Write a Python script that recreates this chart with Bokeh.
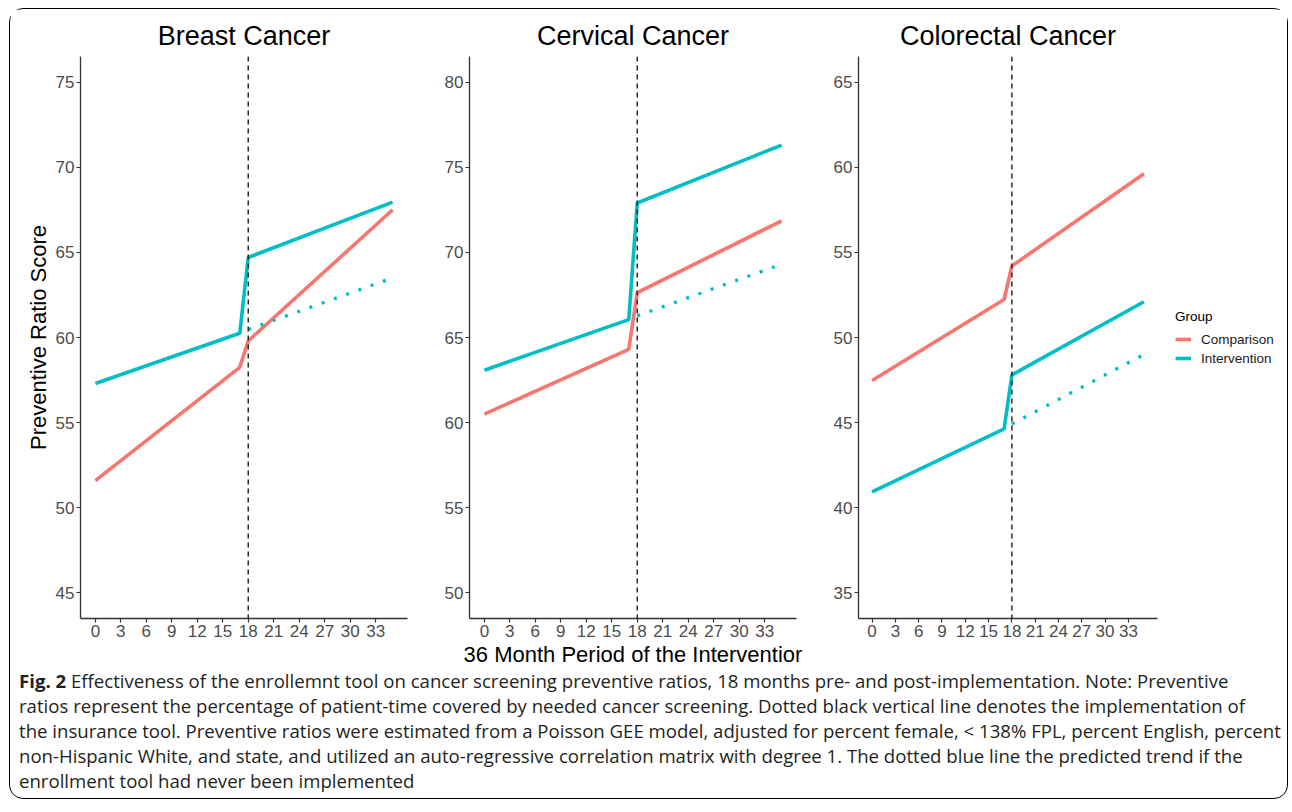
from bokeh.plotting import figure
from bokeh.models import Range1d, Span, Legend, LegendItem, FixedTicker, Div
from bokeh.layouts import row, column
from bokeh.embed import file_html
from bokeh.resources import INLINE

# ---------------- data ----------------
months = [0, 17, 18, 35]
cf_months = [18, 35]
x_ticks = [0, 3, 6, 9, 12, 15, 18, 21, 24, 27, 30, 33]
implementation_month = 18

titles = ["Breast Cancer", "Cervical Cancer", "Colorectal Cancer"]

breast_comparison = [51.6, 58.25, 59.8, 67.5]
breast_intervention = [57.3, 60.25, 64.7, 67.95]
breast_counterfactual = [60.47, 63.5]
breast_yticks = [45, 50, 55, 60, 65, 70, 75]

cervical_comparison = [60.5, 64.3, 67.63, 71.85]
cervical_intervention = [63.08, 66.05, 72.9, 76.3]
cervical_counterfactual = [66.27, 69.3]
cervical_yticks = [50, 55, 60, 65, 70, 75, 80]

colorectal_comparison = [47.47, 52.23, 54.2, 59.62]
colorectal_intervention = [40.93, 44.63, 47.8, 52.1]
colorectal_counterfactual = [44.92, 49.0]
colorectal_yticks = [35, 40, 45, 50, 55, 60, 65]

group_labels = ["Comparison", "Intervention"]
y_title = "Preventive Ratio Score"
x_title = "36 Month Period of the Interventior"

caption_lines = [
    "<b>Fig. 2</b> Effectiveness of the enrollemnt tool on cancer screening preventive ratios, 18 months pre- and post-implementation. Note: Preventive",
    "ratios represent the percentage of patient-time covered by needed cancer screening. Dotted black vertical line denotes the implementation of",
    "the insurance tool. Preventive ratios were estimated from a Poisson GEE model, adjusted for percent female, &lt; 138% FPL, percent English, percent",
    "non-Hispanic White, and state, and utilized an auto-regressive correlation matrix with degree 1. The dotted blue line the predicted trend if the",
    "enrollment tool had never been implemented",
]

# ---------------- style ----------------
RED = "#F8766D"
CYAN = "#00BFC4"
FONT = "Liberation Sans"
FRAME_H = 562
X_LO, X_HI = -1.75, 36.75


def make_panel(title, comp, inter, cf, yticks, frame_w, mbl, mbr,
               ylabel=None, xlabel=None, legend_space=0):
    total_w = frame_w + legend_space
    x_hi = X_LO + (X_HI - X_LO) * total_w / frame_w
    p = figure(frame_width=total_w, frame_height=FRAME_H,
               x_range=Range1d(X_LO, x_hi),
               y_range=Range1d(yticks[0] - 1.5, yticks[-1] + 1.5),
               output_backend="svg", toolbar_location=None,
               min_border_left=mbl, min_border_right=mbr,
               min_border_top=47, min_border_bottom=50,
               background_fill_color="white", border_fill_color="white")
    p.title.text = title
    p.title.text_font = FONT
    p.title.text_font_size = "27px"
    p.title.text_font_style = "normal"
    p.title.text_color = "black"
    p.title.standoff = 11
    if legend_space:
        p.title.align = "left"
        p.title.offset = frame_w / 2 - 108
    else:
        p.title.align = "center"
    p.grid.visible = False
    p.outline_line_color = None

    for ax in (p.xaxis[0], p.yaxis[0]):
        ax.axis_line_color = "#333333"
        ax.axis_line_width = 1.3
        ax.major_tick_line_color = "#333333"
        ax.major_tick_line_width = 1.2
        ax.major_tick_in = 0
        ax.major_tick_out = 4
        ax.minor_tick_in = 0
        ax.minor_tick_out = 0
        ax.major_label_text_font = FONT
        ax.major_label_text_font_size = "17px"
        ax.major_label_text_color = "#4D4D4D"
        ax.major_label_standoff = 2
        ax.axis_label_text_font = FONT
        ax.axis_label_text_font_style = "normal"
        ax.axis_label_text_color = "black"
        ax.axis_label_text_font_size = "22px"
        ax.axis_label_standoff = 2
    p.xaxis.ticker = FixedTicker(ticks=x_ticks)
    p.xaxis.bounds = (X_LO, X_HI)
    p.yaxis.ticker = FixedTicker(ticks=yticks)
    if ylabel:
        p.yaxis.axis_label = ylabel
    if xlabel:
        p.xaxis.axis_label = xlabel

    p.add_layout(Span(location=implementation_month, dimension="height",
                      line_color="#2b2b2b", line_width=1.5, line_dash="5 4"))
    rc = p.line(months, comp, line_color=RED, line_width=3.6)
    ri = p.line(months, inter, line_color=CYAN, line_width=3.6)
    p.line(cf_months, cf, line_color=CYAN, line_width=3.4, line_dash="3 10")

    if legend_space:
        lg = Legend(items=[LegendItem(label=group_labels[0], renderers=[rc]),
                           LegendItem(label=group_labels[1], renderers=[ri])],
                    title="Group", location=(frame_w + 18, 252))
        lg.title_text_font = FONT
        lg.title_text_font_size = "13.5px"
        lg.title_text_font_style = "normal"
        lg.title_text_color = "black"
        lg.title_standoff = 7
        lg.label_text_font = FONT
        lg.label_text_font_size = "13.5px"
        lg.label_text_color = "#1a1a1a"
        lg.glyph_width = 16
        lg.glyph_height = 16
        lg.label_height = 16
        lg.label_standoff = 10
        lg.spacing = 3
        lg.padding = 6
        lg.margin = 0
        lg.border_line_color = None
        lg.background_fill_alpha = 0
        p.add_layout(lg, "center")
    return p


f1 = make_panel(titles[0], breast_comparison, breast_intervention, breast_counterfactual,
                breast_yticks, 327, 70, 20, ylabel=y_title)
f2 = make_panel(titles[1], cervical_comparison, cervical_intervention, cervical_counterfactual,
                cervical_yticks, 327, 42, 20, xlabel=x_title)
f3 = make_panel(titles[2], colorectal_comparison, colorectal_intervention, colorectal_counterfactual,
                colorectal_yticks, 299, 42, 0, legend_space=130)

caption = Div(text="<br>".join(caption_lines), width=1270, margin=(-1, 0, 0, 0),
              styles={"font-family": "'Open Sans', sans-serif", "font-size": "18.6px",
                      "line-height": "25px", "color": "#231f20", "white-space": "nowrap",
                      "padding-left": "9px", "padding-bottom": "5px"})

layout = column(row(f1, f2, f3), caption,
                styles={"border": "1.5px solid black", "border-radius": "14px",
                        "background": "white", "margin-left": "9px", "margin-top": "8px"})

open("out.html", "w").write(file_html(layout, INLINE))
